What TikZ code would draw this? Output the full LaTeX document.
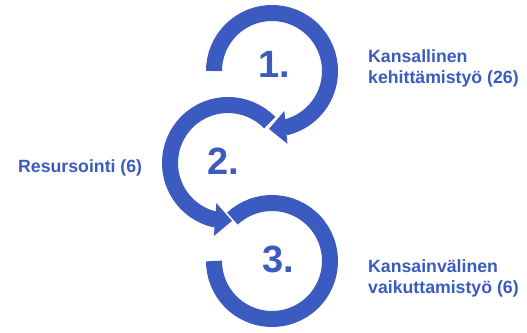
\documentclass[tikz,border=0pt]{standalone}
\usepackage{fontspec}
\setmainfont{Liberation Sans}
\usetikzlibrary{arrows.meta,bending}
\definecolor{ringblue}{RGB}{59,91,192}

\begin{document}
\begin{tikzpicture}[x=1pt,y=1pt,
  ring/.style={draw=ringblue,line width=16pt},
  ringarrow/.style={ring,-{Triangle[width=32pt,length=17pt]}},
  stepnum/.style={text=ringblue,inner sep=0pt,font=\fontsize{38}{38}\selectfont\bfseries},
  sidetext/.style={text=ringblue,inner sep=0pt,align=left,font=\fontsize{17.7}{21}\selectfont\bfseries}]

  \useasboundingbox (0,0) rectangle (527,332);

  \coordinate (c1) at (272,261);
  \coordinate (c2) at (228,169);
  \coordinate (c3) at (272,71);

  % rings
  \draw[ring] ([shift={(133:58)}]c3) arc[start angle=133,end angle=-180,radius=58];
  \draw[ringarrow] ([shift={(44:58)}]c2) arc[start angle=44,end angle=274,radius=58];
  \draw[ringarrow] ([shift={(180:58)}]c1) arc[start angle=180,end angle=-93,radius=58];

  % numbers
  \node[stepnum] (n1) at (274,268) {1.};
  \node[stepnum] (n2) at (223,171) {2.};
  \node[stepnum] (n3) at (278,73) {3.};

  % labels
  \node[sidetext,anchor=west] (t1) at (368,264) {Kansallinen\\kehittämistyö (26)};
  \node[sidetext,anchor=base west] (t2) at (18,159) {Resursointi (6)};
  \node[sidetext,anchor=west] (t3) at (368,54) {Kansainvälinen\\vaikuttamistyö (6)};

\end{tikzpicture}
\end{document}
